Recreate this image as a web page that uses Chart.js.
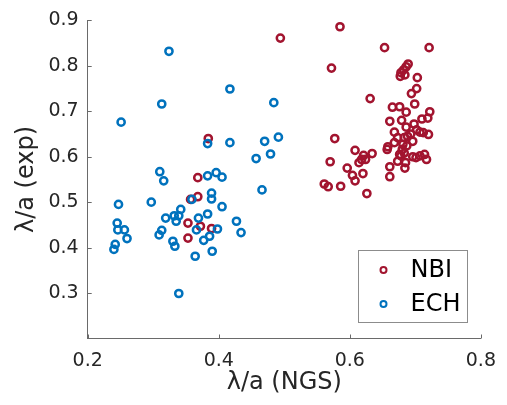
<!DOCTYPE html>
<html>
<head>
<meta charset="utf-8">
<script src="https://cdn.jsdelivr.net/npm/chart.js@4"></script>
<style>
  html, body { margin: 0; padding: 0; background: #fff; }
  #wrap { width: 507px; height: 405px; }
</style>
</head>
<body>
<div id="wrap"><canvas id="grafico"></canvas></div>
<script>
// DADOS - NBI
const nbiX = [
  0.384, 0.368, 0.357, 0.368, 0.353, 0.353, 0.372, 0.389,
  0.494, 0.585, 0.653, 0.721, 0.572, 0.631,
  0.577, 0.608, 0.634, 0.621, 0.624, 0.618, 0.614, 0.570, 0.596,
  0.604, 0.620, 0.608, 0.561, 0.567, 0.586, 0.626,
  0.689, 0.686, 0.682, 0.678, 0.684, 0.677, 0.703, 0.702, 0.694,
  0.699, 0.665, 0.676, 0.686, 0.722, 0.719, 0.710, 0.661, 0.679,
  0.698, 0.686, 0.668, 0.702, 0.707, 0.712, 0.720, 0.693, 0.688,
  0.683, 0.673, 0.696, 0.668, 0.658, 0.657, 0.681, 0.680, 0.687,
  0.676, 0.683, 0.678, 0.714, 0.701, 0.696, 0.717, 0.707, 0.673,
  0.685, 0.661, 0.684, 0.661
];
const nbiY = [
  0.640, 0.554, 0.506, 0.512, 0.454, 0.421, 0.447, 0.442,
  0.861, 0.886, 0.840, 0.840, 0.795, 0.728,
  0.640, 0.614, 0.607, 0.603, 0.594, 0.594, 0.587, 0.589, 0.575,
  0.559, 0.563, 0.547, 0.540, 0.534, 0.535, 0.519,
  0.804, 0.798, 0.791, 0.785, 0.780, 0.777, 0.774, 0.750, 0.739,
  0.716, 0.709, 0.710, 0.698, 0.699, 0.685, 0.683, 0.678, 0.680,
  0.672, 0.665, 0.654, 0.659, 0.654, 0.653, 0.649, 0.650, 0.645,
  0.642, 0.642, 0.634, 0.631, 0.622, 0.616, 0.627, 0.616, 0.624,
  0.605, 0.608, 0.602, 0.605, 0.598, 0.600, 0.594, 0.602, 0.590,
  0.587, 0.578, 0.575, 0.556
];

// DADOS - ECH
const echX = [
  0.324, 0.313, 0.251, 0.417, 0.417, 0.383, 0.457, 0.310, 0.316, 0.383,
  0.396, 0.405, 0.466, 0.247, 0.297, 0.389, 0.389, 0.359, 0.405, 0.484,
  0.470, 0.491, 0.479, 0.245, 0.246, 0.256, 0.260, 0.242, 0.240, 0.319,
  0.332, 0.335, 0.342, 0.339, 0.313, 0.309, 0.330, 0.333, 0.339, 0.369,
  0.383, 0.366, 0.364, 0.377, 0.386, 0.390, 0.398, 0.427, 0.434
];
const echY = [
  0.832, 0.716, 0.676, 0.749, 0.631, 0.629, 0.596, 0.567, 0.547, 0.558,
  0.565, 0.555, 0.527, 0.495, 0.500, 0.520, 0.507, 0.506, 0.490, 0.719,
  0.634, 0.643, 0.606, 0.454, 0.439, 0.439, 0.420, 0.407, 0.396, 0.465,
  0.470, 0.458, 0.484, 0.470, 0.438, 0.428, 0.414, 0.403, 0.299, 0.465,
  0.474, 0.439, 0.381, 0.416, 0.425, 0.392, 0.441, 0.458, 0.433
];

const xTicks = [0.2, 0.4, 0.6, 0.8];
const yTicks = [0.3, 0.4, 0.5, 0.6, 0.7, 0.8, 0.9];

const corTexto = "#262626";
const corEixo = "#6a6a6a";
const fonte = "DejaVu Sans";

function pontos(xs, ys) {
  return xs.map((x, i) => ({ x: x, y: ys[i] }));
}

// ticks para dentro + legenda
const extras = {
  id: "extras",
  afterDraw(chart) {
    const c = chart.ctx;
    const area = chart.chartArea;
    const sx = chart.scales.x;
    const sy = chart.scales.y;

    c.save();
    c.strokeStyle = corEixo;
    c.lineWidth = 1;
    xTicks.forEach(function (v) {
      const px = Math.round(sx.getPixelForValue(v)) + 0.5;
      c.beginPath();
      c.moveTo(px, area.bottom);
      c.lineTo(px, area.bottom - 4);
      c.stroke();
    });
    yTicks.forEach(function (v) {
      const py = Math.round(sy.getPixelForValue(v)) + 0.5;
      c.beginPath();
      c.moveTo(area.left, py);
      c.lineTo(area.left + 4, py);
      c.stroke();
    });

    // legenda
    const w = 109, h = 72;
    const bx = Math.round(area.right - 14 - w) + 0.5;
    const by = Math.round(area.bottom - 17 - h) + 0.5;
    c.fillStyle = "#fff";
    c.fillRect(bx, by, w, h);
    c.strokeStyle = "#8c8c8c";
    c.strokeRect(bx, by, w, h);

    c.font = "24px '" + fonte + "'";
    c.textBaseline = "middle";
    chart.data.datasets.forEach(function (ds, i) {
      const cy = by + 19.5 + i * 34;
      c.beginPath();
      c.arc(bx + 25, cy, 3, 0, Math.PI * 2);
      c.strokeStyle = ds.borderColor;
      c.lineWidth = 2;
      c.stroke();
      c.fillStyle = "#000";
      c.fillText(ds.label, bx + 52, cy + 1);
    });
    c.restore();
  }
};

new Chart(document.getElementById("grafico"), {
  type: "scatter",
  data: {
    datasets: [
      {
        label: "NBI",
        data: pontos(nbiX, nbiY),
        borderColor: "#A2142F",
        backgroundColor: "rgba(0,0,0,0)",
        pointRadius: 3.6,
        pointHoverRadius: 3.6,
        borderWidth: 2.5,
        order: 1
      },
      {
        label: "ECH",
        data: pontos(echX, echY),
        borderColor: "#0072BD",
        backgroundColor: "rgba(0,0,0,0)",
        pointRadius: 3.6,
        pointHoverRadius: 3.6,
        borderWidth: 2.5,
        order: 0
      }
    ]
  },
  options: {
    responsive: true,
    maintainAspectRatio: false,
    animation: false,
    devicePixelRatio: 1,
    layout: {
      padding: { top: 16.7, right: 23.7, bottom: 0, left: 0 }
    },
    plugins: {
      legend: { display: false },
      tooltip: { enabled: false }
    },
    scales: {
      x: {
        type: "linear",
        min: 0.2,
        max: 0.8,
        afterFit(s) { s.height = 66.5; },
        afterBuildTicks(s) { s.ticks = xTicks.map(v => ({ value: v })); },
        grid: { display: false, drawTicks: false },
        border: { display: true, color: corEixo, width: 1 },
        ticks: {
          color: corTexto,
          font: { family: fonte, size: 19 },
          padding: 11,
          maxRotation: 0,
          callback: v => v.toFixed(1)
        },
        title: {
          display: true,
          text: "λ/a (NGS)",
          color: corTexto,
          font: { family: fonte, size: 24 },
          padding: { top: 0, bottom: 8 }
        }
      },
      y: {
        type: "linear",
        min: 0.2,
        max: 0.9,
        afterFit(s) { s.width = 87.7; },
        afterBuildTicks(s) { s.ticks = yTicks.map(v => ({ value: v })); },
        grid: { display: false, drawTicks: false },
        border: { display: true, color: corEixo, width: 1 },
        ticks: {
          color: corTexto,
          font: { family: fonte, size: 19 },
          padding: 9,
          callback: v => v.toFixed(1)
        },
        title: {
          display: true,
          text: "λ/a (exp)",
          color: corTexto,
          font: { family: fonte, size: 24 },
          padding: { top: 12, bottom: 0 }
        }
      }
    }
  },
  plugins: [extras]
});
</script>
</body>
</html>
